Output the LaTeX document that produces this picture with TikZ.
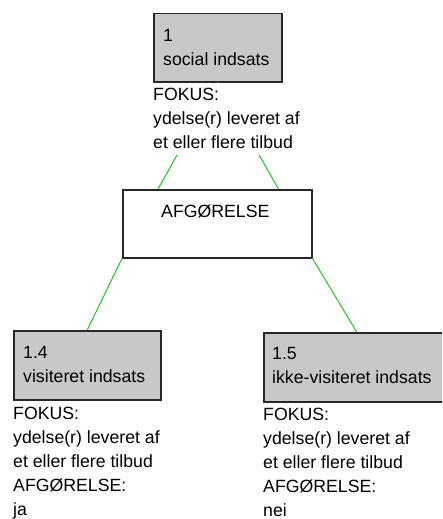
\documentclass[tikz,border=0pt]{standalone}
\usepackage{fontspec}
\setmainfont{Liberation Sans}
\definecolor{boxgray}{RGB}{200,200,200}
\definecolor{edgegreen}{RGB}{40,190,40}
\definecolor{boxline}{RGB}{40,40,40}
\begin{document}
\begin{tikzpicture}[x=1pt,y=-1pt,
  box/.style={draw=boxline, line width=1.5pt, inner sep=0pt, anchor=north west},
  graybox/.style={box, fill=boxgray},
  whitebox/.style={box, fill=white},
  txt/.style={inner sep=0pt, anchor=north west, align=left, font=\fontsize{17.7}{24}\selectfont},
  link/.style={draw=edgegreen, line width=1pt}]
\useasboundingbox (0,0) rectangle (442,519);
\clip (0,0) rectangle (442,519);
% boxes
\node[graybox, minimum width=128pt, minimum height=68pt] (b1) at (153,13) {};
\node[whitebox, minimum width=189pt, minimum height=68pt] (afg) at (122,189) {};
\node[graybox, minimum width=147pt, minimum height=69pt] (b14) at (13,330) {};
\node[graybox, minimum width=186pt, minimum height=69pt] (b15) at (263,332) {};
% connectors
\draw[link] (b1.south) -- ([xshift=36pt]afg.north west);
\draw[link] (b1.south) -- ([xshift=-34pt]afg.north east);
\draw[link] (afg.south west) -- (b14.north);
\draw[link] (afg.south east) -- (b15.north);
% texts
\node[txt] (t1) at (163,24.2) {\strut 1\\\strut social indsats};
\node[txt, fill=white] (f1) at (153,83.2) {\strut FOKUS:\\\strut ydelse(r) leveret af\\\strut et eller flere tilbud};
\node[txt] (tafg) at (161,200.2) {\strut AFGØRELSE};
\node[txt] (t14) at (23,341.2) {\strut 1.4\\\strut visiteret indsats};
\node[txt] (f14) at (13,402.2) {\strut FOKUS:\\\strut ydelse(r) leveret af\\\strut et eller flere tilbud\\\strut AFGØRELSE:\\\strut ja};
\node[txt] (t15) at (272,342.2) {\strut 1.5\\\strut ikke-visiteret indsats};
\node[txt] (f15) at (263,403.2) {\strut FOKUS:\\\strut ydelse(r) leveret af\\\strut et eller flere tilbud\\\strut AFGØRELSE:\\\strut nei};
\end{tikzpicture}
\end{document}
